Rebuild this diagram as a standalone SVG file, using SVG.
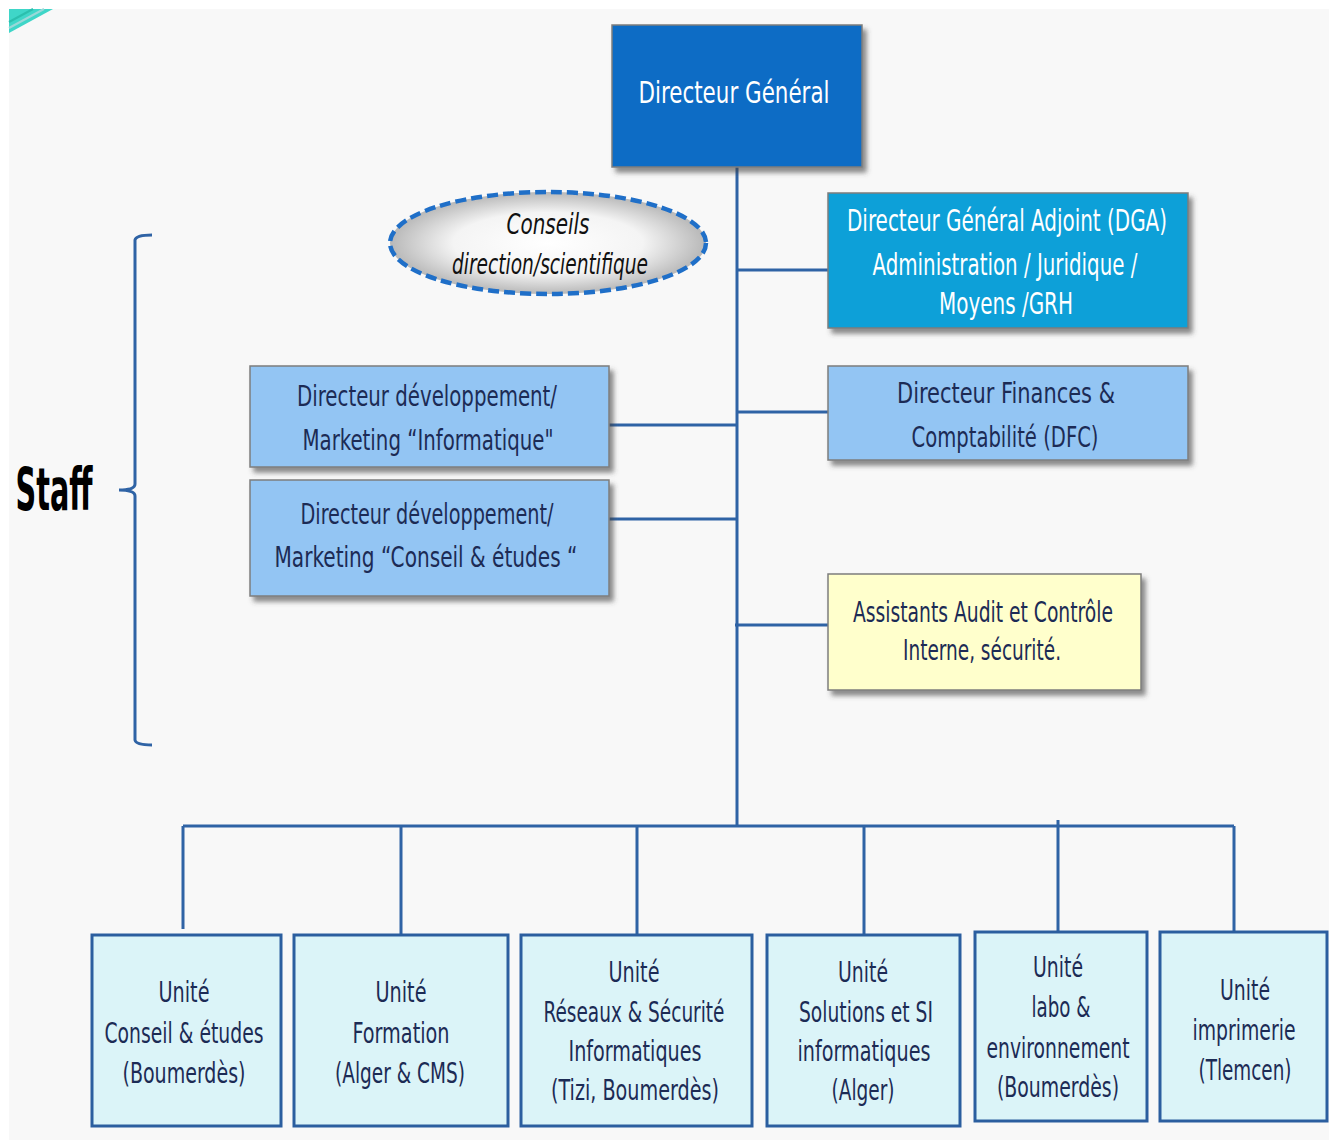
<svg xmlns="http://www.w3.org/2000/svg" width="1329" height="1140" viewBox="0 0 1329 1140">
  <style>
    .t { font-family: "Liberation Sans Narrow", "DejaVu Sans Condensed", "Roboto Condensed", "Liberation Sans", sans-serif; font-stretch: condensed; text-anchor: middle; }
    .w { fill: #ffffff; font-size: 30px; }
    .d { fill: #1c2b55; font-size: 29px; }
    .u { fill: #1c2b55; font-size: 29px; }
    .box { stroke: #7d7d7d; stroke-width: 1.5; filter: url(#shadow); }
    .unit { fill: #dbf4f8; stroke: #2b5e9f; stroke-width: 3; }
    .link { fill: none; stroke: #2f63a5; stroke-width: 3; }
  </style>
  <defs>
    <filter id="shadow" x="-10%" y="-10%" width="130%" height="140%">
      <feDropShadow dx="4" dy="5" stdDeviation="2.5" flood-color="#404040" flood-opacity="0.6"/>
    </filter>
    <radialGradient id="oval" cx="50%" cy="50%" r="50%">
      <stop offset="0" stop-color="#ffffff"/>
      <stop offset="0.6" stop-color="#f4f4f4"/>
      <stop offset="1" stop-color="#b8b8b8"/>
    </radialGradient>
  </defs>

  <!-- page background -->
  <rect x="0" y="0" width="1329" height="1140" fill="#ffffff"/>
  <rect x="9" y="9" width="1320" height="1131" fill="#f8f8f8"/>
  <polygon points="9,9 53,9 9,33" fill="#3fd6c8"/>
  <polyline points="9,28 44,9" fill="none" stroke="#9ad8d8" stroke-width="2"/>
  <polyline points="9,22 33,9" fill="none" stroke="#2bbfae" stroke-width="2"/>

  <!-- connectors -->
  <g id="connectors">
    <line class="link" x1="737" y1="167" x2="737" y2="826"/>
    <line class="link" x1="737" y1="270" x2="828" y2="270"/>
    <line class="link" x1="737" y1="412" x2="828" y2="412"/>
    <line class="link" x1="609" y1="425" x2="737" y2="425"/>
    <line class="link" x1="609" y1="519" x2="737" y2="519"/>
    <line class="link" x1="735" y1="625" x2="828" y2="625"/>
    <line class="link" x1="183" y1="826" x2="1234" y2="826"/>
    <line class="link" x1="183" y1="826" x2="183" y2="929"/>
    <line class="link" x1="401" y1="826" x2="401" y2="935"/>
    <line class="link" x1="637" y1="826" x2="637" y2="935"/>
    <line class="link" x1="864" y1="826" x2="864" y2="935"/>
    <line class="link" x1="1058" y1="820" x2="1058" y2="932"/>
    <line class="link" x1="1234" y1="826" x2="1234" y2="940"/>
  </g>

  <!-- staff bracket -->
  <g id="staff">
    <path class="link" d="M152,235 Q136,235 135,240 L135,484 Q135,490 119,490 Q135,490 135,496 L135,740 Q136,745 152,745"/>
    <text class="t" x="54" y="510" font-size="58" font-weight="bold" fill="#000000" textLength="77" lengthAdjust="spacingAndGlyphs">Staff</text>
  </g>

  <g id="directeur-general">
    <rect class="box" x="612" y="25" width="250" height="142" fill="#0f6cc5"/>
    <text class="t w" x="734" y="103" font-size="36" textLength="191" lengthAdjust="spacingAndGlyphs">Directeur Général</text>
  </g>

  <g id="conseils">
    <ellipse cx="548" cy="243" rx="158" ry="51" fill="url(#oval)" stroke="#1f6fc8" stroke-width="4.5" stroke-dasharray="11 5"/>
    <text class="t" x="548" y="234" font-size="28" font-style="italic" fill="#111111" textLength="83" lengthAdjust="spacingAndGlyphs">Conseils</text>
    <text class="t" x="550" y="274" font-size="28" font-style="italic" fill="#111111" textLength="196" lengthAdjust="spacingAndGlyphs">direction/scientifique</text>
  </g>

  <g id="dga">
    <rect class="box" x="828" y="193" width="360" height="135" fill="#0aa0d8"/>
    <text class="t w" x="1007" y="231" textLength="320" lengthAdjust="spacingAndGlyphs">Directeur Général Adjoint  (DGA)</text>
    <text class="t w" x="1005" y="275" textLength="265" lengthAdjust="spacingAndGlyphs">Administration / Juridique /</text>
    <text class="t w" x="1006" y="314" textLength="134" lengthAdjust="spacingAndGlyphs">Moyens /GRH</text>
  </g>

  <g id="dev-informatique">
    <rect class="box" x="250" y="366" width="359" height="101" fill="#93c5f3"/>
    <text class="t d" x="427" y="406" textLength="260" lengthAdjust="spacingAndGlyphs">Directeur  développement/</text>
    <text class="t d" x="428" y="450" textLength="251" lengthAdjust="spacingAndGlyphs">Marketing “Informatique"</text>
  </g>

  <g id="dev-conseil">
    <rect class="box" x="250" y="480" width="359" height="116" fill="#93c5f3"/>
    <text class="t d" x="427" y="524" textLength="253" lengthAdjust="spacingAndGlyphs">Directeur développement/</text>
    <text class="t d" x="426" y="567" textLength="303" lengthAdjust="spacingAndGlyphs">Marketing  “Conseil &amp; études “</text>
  </g>

  <g id="dfc">
    <rect class="box" x="828" y="366" width="360" height="94" fill="#93c5f3"/>
    <text class="t d" x="1006" y="403" textLength="218" lengthAdjust="spacingAndGlyphs">Directeur  Finances  &amp;</text>
    <text class="t d" x="1005" y="447" textLength="187" lengthAdjust="spacingAndGlyphs">Comptabilité (DFC)</text>
  </g>

  <g id="audit">
    <rect class="box" x="828" y="574" width="313" height="116" fill="#ffffcc"/>
    <text class="t d" x="983" y="622" textLength="260" lengthAdjust="spacingAndGlyphs">Assistants Audit et Contrôle</text>
    <text class="t d" x="982" y="660" textLength="158" lengthAdjust="spacingAndGlyphs">Interne, sécurité.</text>
  </g>

  <g id="unite-conseil">
    <rect class="unit" x="92" y="935" width="189" height="191"/>
    <text class="t u" x="184" y="1002" textLength="51" lengthAdjust="spacingAndGlyphs">Unité</text>
    <text class="t u" x="184" y="1043" textLength="159" lengthAdjust="spacingAndGlyphs">Conseil &amp; études</text>
    <text class="t u" x="184" y="1083" textLength="123" lengthAdjust="spacingAndGlyphs">(Boumerdès)</text>
  </g>

  <g id="unite-formation">
    <rect class="unit" x="294" y="935" width="214" height="191"/>
    <text class="t u" x="401" y="1002" textLength="51" lengthAdjust="spacingAndGlyphs">Unité</text>
    <text class="t u" x="401" y="1043" textLength="97" lengthAdjust="spacingAndGlyphs">Formation</text>
    <text class="t u" x="400" y="1083" textLength="130" lengthAdjust="spacingAndGlyphs">(Alger &amp; CMS)</text>
  </g>

  <g id="unite-reseaux">
    <rect class="unit" x="521" y="935" width="231" height="191"/>
    <text class="t u" x="634" y="982" textLength="51" lengthAdjust="spacingAndGlyphs">Unité</text>
    <text class="t u" x="634" y="1022" textLength="181" lengthAdjust="spacingAndGlyphs">Réseaux &amp; Sécurité</text>
    <text class="t u" x="635" y="1061" textLength="133" lengthAdjust="spacingAndGlyphs">Informatiques</text>
    <text class="t u" x="635" y="1100" textLength="168" lengthAdjust="spacingAndGlyphs">(Tizi, Boumerdès)</text>
  </g>

  <g id="unite-solutions">
    <rect class="unit" x="767" y="935" width="193" height="191"/>
    <text class="t u" x="863" y="982" textLength="50" lengthAdjust="spacingAndGlyphs">Unité</text>
    <text class="t u" x="866" y="1022" textLength="134" lengthAdjust="spacingAndGlyphs">Solutions et SI</text>
    <text class="t u" x="864" y="1061" textLength="133" lengthAdjust="spacingAndGlyphs">informatiques</text>
    <text class="t u" x="863" y="1100" textLength="63" lengthAdjust="spacingAndGlyphs">(Alger)</text>
  </g>

  <g id="unite-labo">
    <rect class="unit" x="975" y="932" width="172" height="189"/>
    <text class="t u" x="1058" y="977" textLength="50" lengthAdjust="spacingAndGlyphs">Unité</text>
    <text class="t u" x="1061" y="1017" textLength="59" lengthAdjust="spacingAndGlyphs">labo &amp;</text>
    <text class="t u" x="1058" y="1058" textLength="143" lengthAdjust="spacingAndGlyphs">environnement</text>
    <text class="t u" x="1058" y="1097" textLength="122" lengthAdjust="spacingAndGlyphs">(Boumerdès)</text>
  </g>

  <g id="unite-imprimerie">
    <rect class="unit" x="1160" y="932" width="167" height="189"/>
    <text class="t u" x="1245" y="1000" textLength="50" lengthAdjust="spacingAndGlyphs">Unité</text>
    <text class="t u" x="1244" y="1040" textLength="103" lengthAdjust="spacingAndGlyphs">imprimerie</text>
    <text class="t u" x="1245" y="1080" textLength="93" lengthAdjust="spacingAndGlyphs">(Tlemcen)</text>
  </g>
</svg>
